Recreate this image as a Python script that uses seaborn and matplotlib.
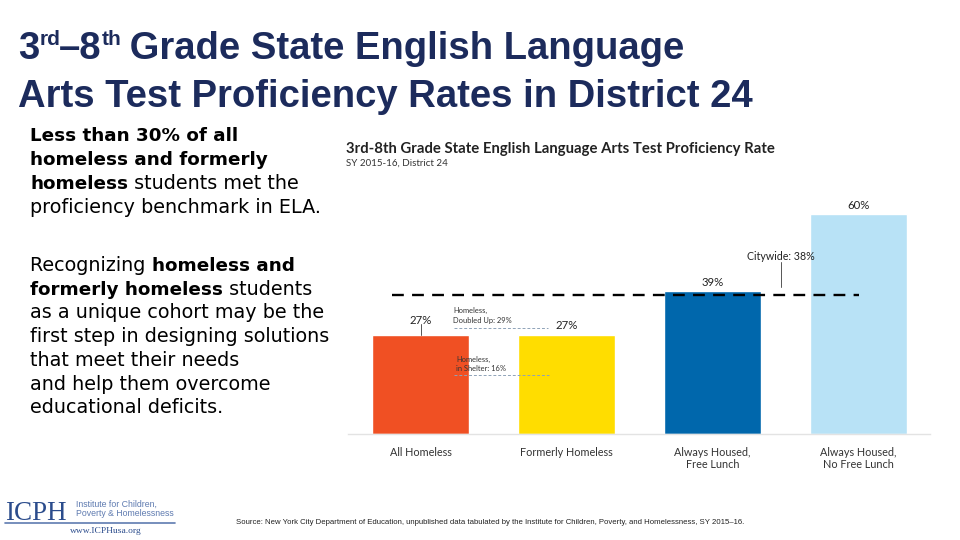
import pandas as pd
import matplotlib.pyplot as plt
import seaborn as sns

# values
groups = ["All Homeless", "Formerly Homeless", "Always Housed,\nFree Lunch", "Always Housed,\nNo Free Lunch"]
rates = [27, 27, 39, 60]
bar_colors = ["#F05023", "#FFDD00", "#0067AC", "#B8E2F6"]
citywide = 38
doubled_up = 29
in_shelter = 16

NAVY = "#1C2B5C"

sns.set_theme(style="white")
plt.rcParams["font.family"] = ["Lato", "DejaVu Sans"]

fig = plt.figure(figsize=(9.6, 5.4), dpi=100)
renderer = fig.canvas.get_renderer()

# overlay for slide text, in pixel units (y down)
page = fig.add_axes([0, 0, 1, 1])
page.set_xlim(0, 960)
page.set_ylim(540, 0)
page.axis("off")


def put(x, y, s, **kw):
    """Place text at baseline y, return x where it ends."""
    t = page.text(x, y, s, va="baseline", ha="left", **kw)
    return x + t.get_window_extent(renderer).width


def put_runs(x, y, runs):
    for txt, bold in runs:
        x = put(x, y, txt, fontsize=13.2 if bold else 13.8,
                fontweight="bold" if bold else "normal",
                color="black", family="DejaVu Sans")


# slide title with superscripts
big = dict(fontsize=27.5, fontweight="bold", color=NAVY, family="Liberation Sans")
sup = dict(fontsize=15, fontweight="bold", color=NAVY, family="Liberation Sans")
x = put(18, 59, "3", **big)
x = put(x, 45, "rd", **sup)
x = put(x - 1, 59, "\u20138", **big)
x = put(x, 45, "th", **sup)
put(x - 2, 59, " Grade State English Language", **big)
put(18, 107, "Arts Test Proficiency Rates in District 24", **big)

# body text, bold pieces kept apart
para1 = [
    [("Less than 30% of all", True)],
    [("homeless and formerly", True)],
    [("homeless", True), (" students met the", False)],
    [("proficiency benchmark in ELA.", False)],
]
para2 = [
    [("Recognizing ", False), ("homeless and", True)],
    [("formerly homeless", True), (" students", False)],
    [("as a unique cohort may be the", False)],
    [("first step in designing solutions", False)],
    [("that meet their needs", False)],
    [("and help them overcome", False)],
    [("educational deficits.", False)],
]
for i, line in enumerate(para1):
    put_runs(30, 141 + i * 24, line)
for i, line in enumerate(para2):
    put_runs(30, 271 + i * 23.7, line)

# footer: logo and source
page.text(5, 520, "ICPH", fontsize=19.5, family="Liberation Serif", color="#2B4C8C",
          va="baseline", ha="left")
page.text(76, 509, "Institute for Children,\nPoverty & Homelessness", fontsize=6.3,
          color="#5F7BB0", family="Liberation Sans", va="center", ha="left", linespacing=1.0)
page.plot([5, 175], [523, 523], color="#5F7BB0", lw=1.2)
page.text(106, 531, "www.ICPHusa.org", fontsize=6.8, family="Liberation Serif", color="#2B4C8C",
          va="center", ha="center")
page.text(236, 523, "Source: New York City Department of Education, unpublished data tabulated by the "
          "Institute for Children, Poverty, and Homelessness, SY 2015\u201316.",
          fontsize=5.6, color="#222222", family="Liberation Sans", va="center", ha="left")

# inner chart title
page.text(346, 149, "3rd-8th Grade State English Language Arts Test Proficiency Rate",
          fontsize=10.75, fontweight="bold", color="#222222", va="center", ha="left")
page.text(346, 163, "SY 2015-16, District 24", fontsize=7, color="#333333",
          va="center", ha="left")

# bar chart
ax = fig.add_axes([348 / 960, 106 / 540, 582 / 960, 238.5 / 540])
df = pd.DataFrame({"group": groups, "rate": rates})
sns.barplot(data=df, x="group", y="rate", hue="group", palette=bar_colors,
            saturation=1, width=0.665, legend=False, ax=ax)
ax.set_xlim(-0.5, 3.49)
ax.set_ylim(0, 65)
ax.set_xlabel("")
ax.set_ylabel("")
ax.set_yticks([])
ax.tick_params(axis="x", length=0, pad=9, labelsize=7.8, labelcolor="#333333")
for side in ["top", "right", "left"]:
    ax.spines[side].set_visible(False)
ax.spines["bottom"].set_color("#E3E3E3")
ax.spines["bottom"].set_linewidth(1)
ax.set_facecolor("none")

# citywide reference
ax.hlines(citywide, -0.2, 3.0, colors="black", linestyles=(0, (5, 3.5)), lw=1.7, zorder=3)
ax.plot([2.47, 2.47], [citywide + 2, citywide + 8.8], color="#555555", lw=0.7)
ax.text(2.47, citywide + 10.3, f"Citywide: {citywide}%", fontsize=7.7, ha="center",
        va="center", color="#222222")

# value labels
ax.plot([0, 0], [rates[0], rates[0] + 3], color="#555555", lw=0.7)
offsets = [2.4, 1.0, 0.8, 0.8]
for i, (r, off) in enumerate(zip(rates, offsets)):
    ax.text(i, r + off, f"{r}%", fontsize=8.2, ha="center", va="bottom", color="#222222")

# homeless subgroups
ax.hlines(doubled_up, 0.23, 0.87, colors="#8FA3B8", linestyles=(0, (3, 2)), lw=0.7, zorder=3)
ax.text(0.22, doubled_up + 1.0, f"Homeless,\nDoubled Up: {doubled_up}%", fontsize=5.4,
        ha="left", va="bottom", color="#333333", linespacing=1.5)
ax.hlines(in_shelter, 0.23, 0.88, colors="#8FA3B8", linestyles=(0, (3, 2)), lw=0.7, zorder=3)
ax.text(0.24, in_shelter + 0.8, f"Homeless,\nin Shelter: {in_shelter}%", fontsize=5.4,
        ha="left", va="bottom", color="#333333", linespacing=1.4)

fig.savefig("out.png", dpi=100)
